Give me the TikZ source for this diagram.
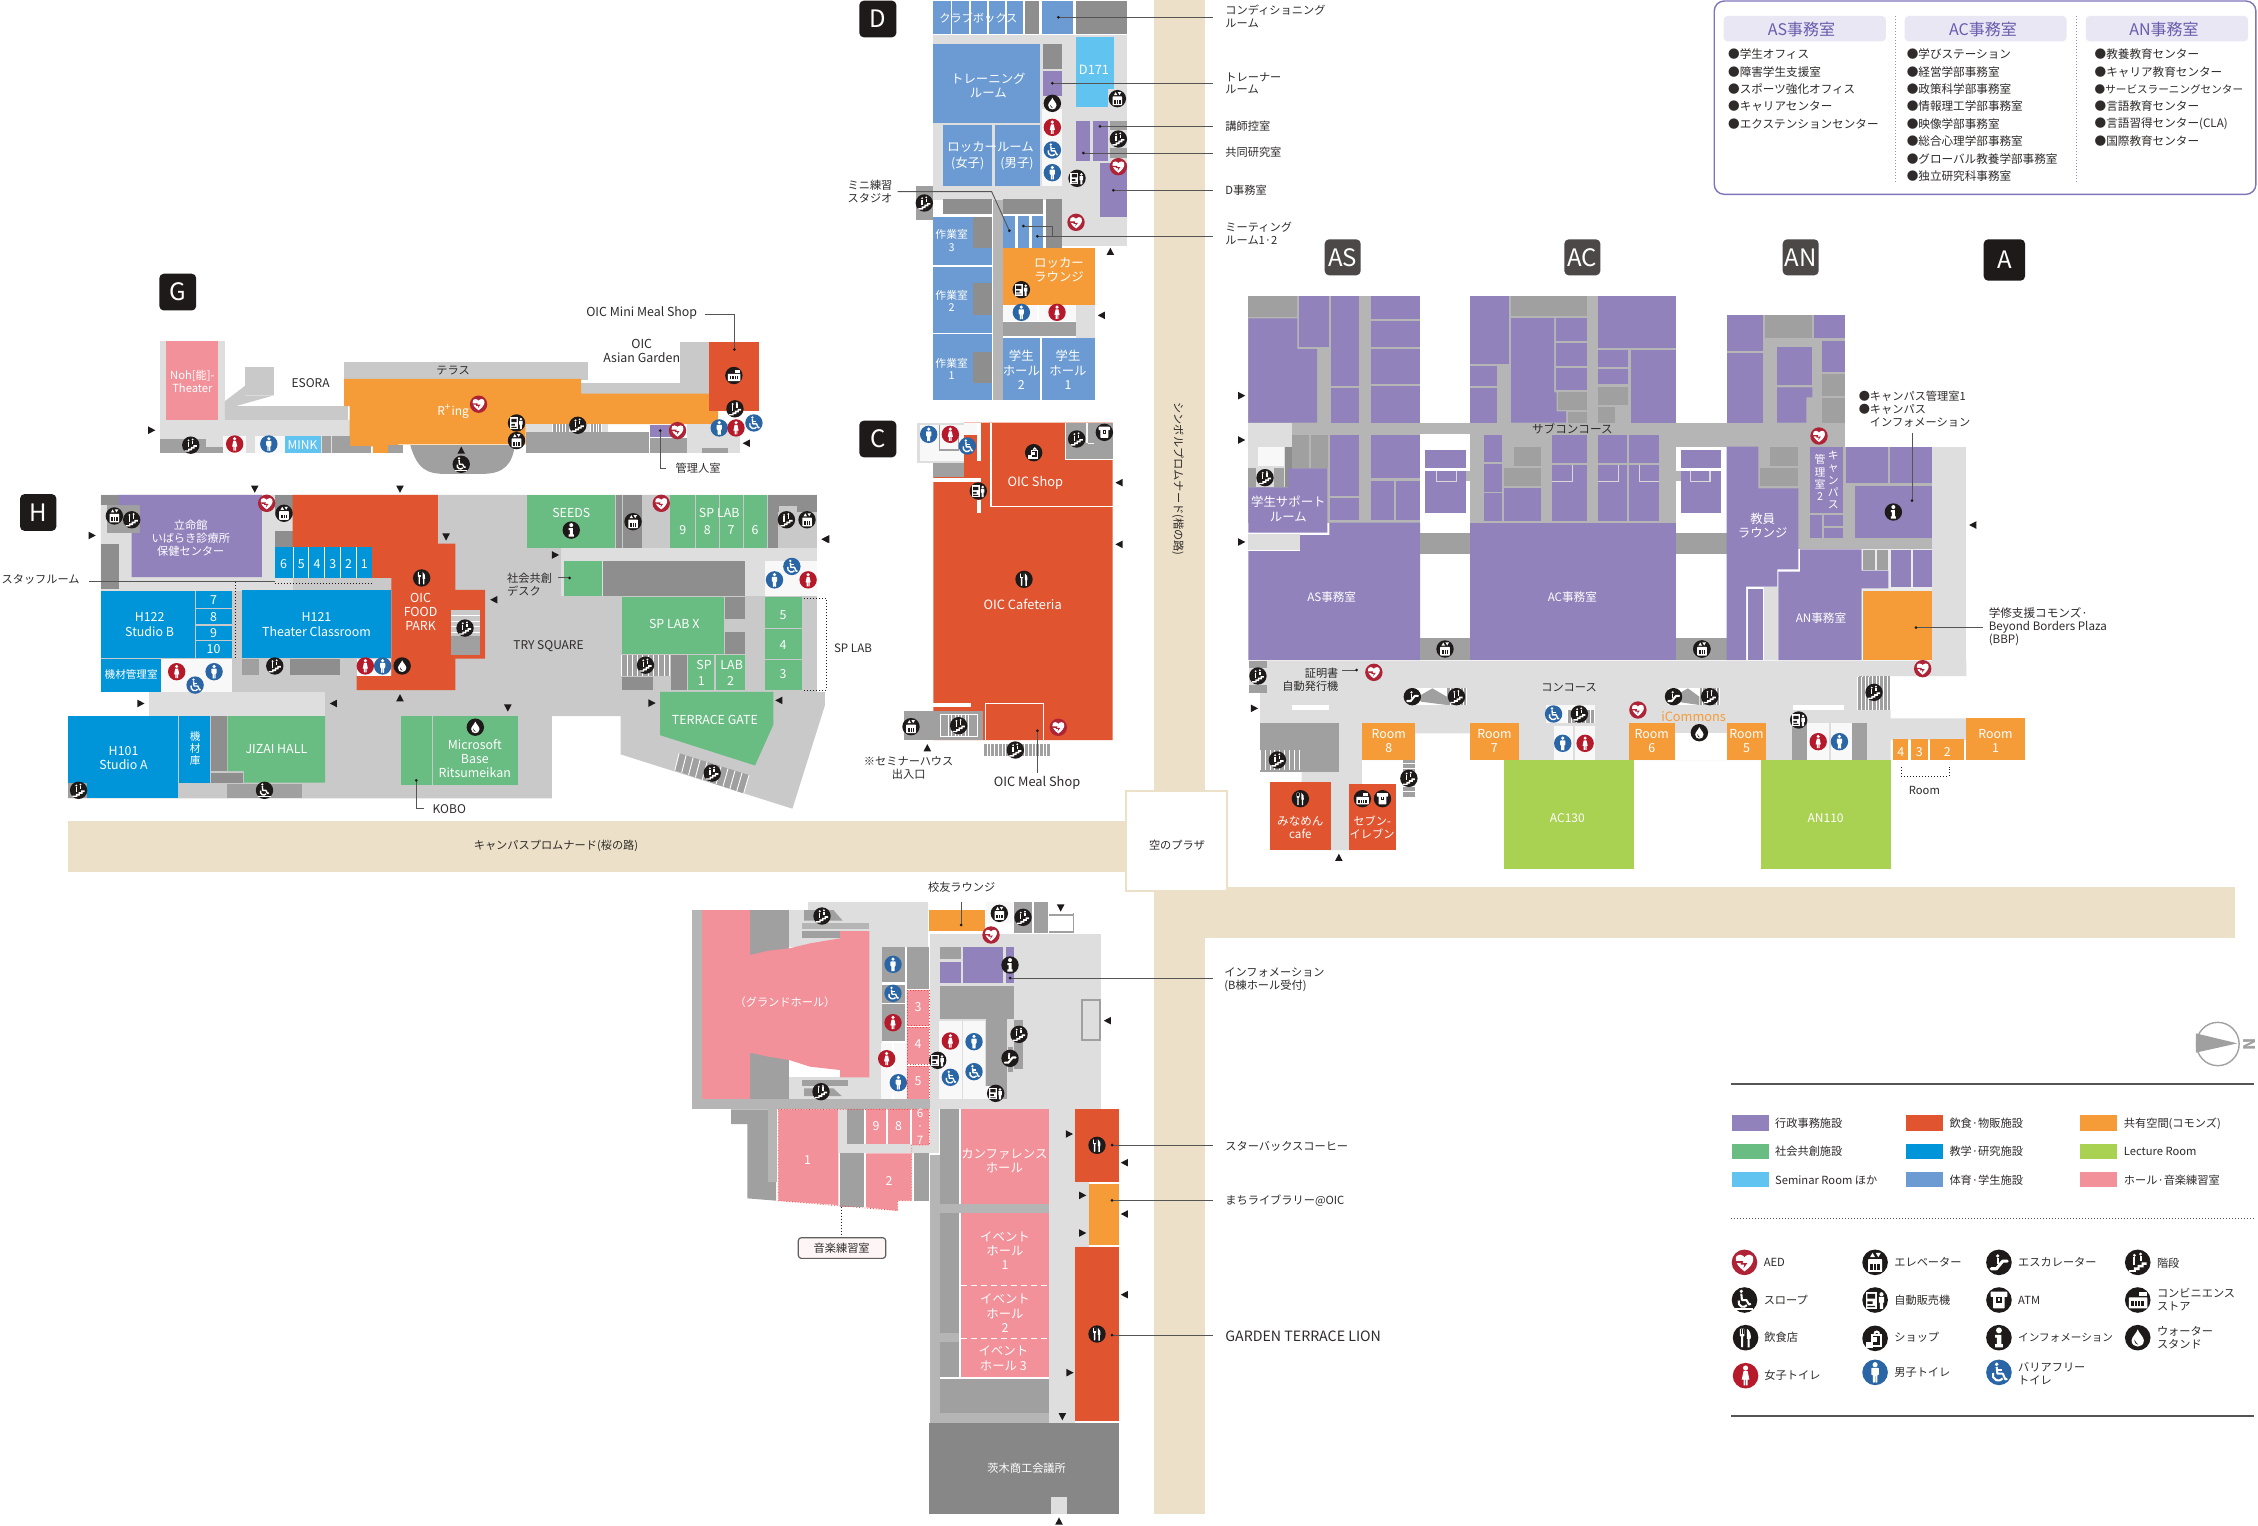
\documentclass[tikz,border=0pt]{standalone}
\usepackage{fontspec}
\setmainfont{Noto Sans CJK JP}
\definecolor{pur}{HTML}{9182BC}
\definecolor{rd}{HTML}{E15430}
\definecolor{org}{HTML}{F59C38}
\definecolor{grn}{HTML}{69BC82}
\definecolor{blu}{HTML}{0095D9}
\definecolor{sky}{HTML}{60C3F0}
\definecolor{stl}{HTML}{6B9BD2}
\definecolor{pnk}{HTML}{F29199}
\definecolor{lim}{HTML}{A9D152}
\definecolor{dkg}{HTML}{A0A0A0}
\definecolor{hdk}{HTML}{8E8E8E}
\definecolor{mdg}{HTML}{B5B5B5}
\definecolor{ltg}{HTML}{DEDEDE}
\definecolor{hgr}{HTML}{C9C9C9}
\definecolor{wht}{HTML}{F8F8F8}
\definecolor{bei}{HTML}{ECE0C8}
\definecolor{txt}{HTML}{2E2B2A}
\definecolor{icb}{HTML}{1E1A19}
\definecolor{icr}{HTML}{B5192A}
\definecolor{ica}{HTML}{AE2336}
\definecolor{icl}{HTML}{2A66A6}
\definecolor{lead}{HTML}{555555}
\definecolor{hdp}{HTML}{E9E7F3}
\definecolor{hdt}{HTML}{6A5BAE}
\newcounter{nn}
\def\icu{0.435}
\tikzset{
 f/.style={font=\fontsize{#1}{\dimexpr#1pt*115/100\relax}\selectfont},
 tx/.style={inner sep=0pt,align=center,text=txt,f=5.6},
 wt/.style={text=white,f=6.2},
 lf/.style={anchor=west,align=left},
 ld/.style={draw=lead,line width=0.45pt},
 zz/.style 2 args={shift={(#1,#2)},x=0.166667pt,y=-0.166667pt},
 icbase/.style={x=\icu pt,y=-\icu pt},
 wl/.style={draw=white,line width=1.6*\icu pt},
 trip/.pic={\begin{scope}[x=.5pt,y=.5pt]\fill[icb] (-3.6,-3.8)--(3.6,0)--(-3.6,3.8)--cycle;\end{scope}},
 icstair/.pic={\begin{scope}[icbase]\fill[icb] (0,0) circle (10);
   \fill[white] (-7,6)--(-3,6)--(-3,4)--(0,4)--(0,2)--(3,2)--(3,0)--(7,0)--(7,2)--(4.5,2)--(4.5,4)--(1.5,4)--(1.5,6)--(-1.5,6)--(-1.5,7.5)--(-7,7.5)--cycle;
   \fill[white] (-2.6,-5.5) circle (1.2) (2.2,-6.5) circle (1.2);
   \draw[wl] (-2.6,-4)--(-2.6,2) (2.2,-5)--(2.2,-1);\end{scope}},
 icesc/.pic={\begin{scope}[icbase]\fill[icb] (0,0) circle (10);
   \draw[white,line width=2.4*\icu pt,line cap=round,line join=round] (-6,5)--(-2,5)--(3,-1)--(6.5,-1);
   \fill[white] (-1,-5) circle (1.4);\draw[wl] (-1,-3.5)--(-1,1);\end{scope}},
 icelev/.pic={\begin{scope}[icbase]\fill[icb] (0,0) circle (10);
   \fill[white,rounded corners=0.3pt] (-5.5,-2.5) rectangle (5.5,7.5);
   \fill[icb] (-3.8,1.5) rectangle (3.8,5.8);
   \draw[white,line width=.8*\icu pt] (-1.3,1.5)--(-1.3,5.8) (1.3,1.5)--(1.3,5.8);
   \fill[white] (-4,-4)--(-2,-7.5)--(0,-4)--cycle (0.5,-7.5)--(4.5,-7.5)--(2.5,-4)--cycle;\end{scope}},
 icvend/.pic={\begin{scope}[icbase]\fill[icb] (0,0) circle (10);
   \fill[white] (-7.5,-6.5) rectangle (1.5,7);
   \fill[icb] (-6,-4.8) rectangle (0,-1) (-6,1) rectangle (-2,3) (-6,4.5) rectangle (0,5.5);
   \fill[white] (5,-4.5) circle (1.6);\fill[white] (3,-2.5) rectangle (7,2) (3.8,2) rectangle (6.2,7);\end{scope}},
 icatm/.pic={\begin{scope}[icbase]\fill[icb] (0,0) circle (10);
   \fill[white,rounded corners=0.3pt] (-6.5,-6.5) rectangle (6.5,-2.5) (-4.5,-2.5) rectangle (4.5,6.5);
   \fill[icb] (-2,-2.5) rectangle (2,2);\fill[white] (-.8,-1.5) rectangle (.8,.8);\end{scope}},
 icconv/.pic={\begin{scope}[icbase]\fill[icb] (0,0) circle (10);
   \fill[white,rounded corners=0.3pt] (-7,-2) rectangle (7.5,6.5);
   \fill[icb] (-5,1) rectangle (5,4.5);\draw[white,line width=.7*\icu pt] (-2.5,1)--(-2.5,4.5) (0,1)--(0,4.5) (2.5,1)--(2.5,4.5);
   \fill[white] (1,-6.5) rectangle (7,-3);\end{scope}},
 icrest/.pic={\begin{scope}[icbase]\fill[icb] (0,0) circle (10);
   \fill[white,rounded corners=0.3pt] (-4.4,-7) rectangle (-1,-1) (-3.5,-1) rectangle (-2,7.5);
   \fill[white] (1,-7) .. controls (3.5,-6) and (4.5,-2) .. (4,1) -- (3.2,1) -- (3.2,7.5) -- (1.6,7.5) -- (1.6,1)--(1,1)--cycle;
   \draw[icb,line width=.5*\icu pt] (-3.3,-7)--(-3.3,-3) (-2.1,-7)--(-2.1,-3);\end{scope}},
 icshop/.pic={\begin{scope}[icbase]\fill[icb] (0,0) circle (10);
   \fill[white] (-3.5,-3.5) rectangle (5.5,7);\fill[icb] (-2,-2) rectangle (4,5.5);
   \draw[wl] (-.5,-3.5) arc[start angle=180,end angle=360,radius=1.8];
   \fill[white] (-7,3) rectangle (-1.5,7.5);\fill[white] (-1.8,-1) rectangle (1.5,3);\end{scope}},
 icinfo/.pic={\begin{scope}[icbase]\fill[icb] (0,0) circle (10);
   \fill[white] (0,-5.7) circle (2.3);
   \fill[white] (-3,-2.2)--(1.8,-2.2)--(1.8,5)--(3,5)--(3,7.5)--(-3,7.5)--(-3,5)--(-1.6,5)--(-1.6,0)--(-3,0)--cycle;\end{scope}},
 icwater/.pic={\begin{scope}[icbase]\fill[icb] (0,0) circle (10);
   \fill[white] (0,-6.5) .. controls (1,-3.5) and (4.8,-.5) .. (4.8,2.2) .. controls (4.8,8.5) and (-4.8,8.5) .. (-4.8,2.2) .. controls (-4.8,-.5) and (-1,-3.5) .. (0,-6.5) -- cycle;
   \fill[icb] (-2.6,1.5) .. controls (-2.6,4) and (-1,5.5) .. (.5,5.5) .. controls (-.8,4.5) and (-1.8,3) .. (-2.6,1.5) -- cycle;\end{scope}},
 icaed/.pic={\begin{scope}[icbase]\fill[ica] (0,0) circle (10);
   \fill[white] (0,7) .. controls (-9,1) and (-8,-6.5) .. (-3.5,-6) .. controls (-1.5,-5.8) and (0,-4.5) .. (0,-3.8) .. controls (0,-4.5) and (1.5,-5.8) .. (3.5,-6) .. controls (8,-6.5) and (9,1) .. (0,7) -- cycle;
   \fill[ica] (-7.5,-1)--(-1,-1)--(-1.5,.6)--(2.2,.6)--(-.8,4.6)--(-.2,1.8)--(-3,1.8)--(-2.7,.6)--(-7,.4)--cycle;\end{scope}},
 icf/.pic={\begin{scope}[icbase]\fill[icr] (0,0) circle (10);
   \fill[white] (0,-6) circle (2);
   \fill[white] (-1.6,-3.5)--(1.6,-3.5)--(3,3)--(1.6,3)--(1.6,7.5)--(.3,7.5)--(.3,3)--(-.3,3)--(-.3,7.5)--(-1.6,7.5)--(-1.6,3)--(-3,3)--cycle;\end{scope}},
 icm/.pic={\begin{scope}[icbase]\fill[icl] (0,0) circle (10);
   \fill[white] (0,-6) circle (2);
   \fill[white,rounded corners=0.3pt] (-3,-3.5)--(3,-3.5)--(3,2)--(1.8,2)--(1.8,8)--(.2,8)--(.2,2.5)--(-.2,2.5)--(-.2,8)--(-1.8,8)--(-1.8,2)--(-3,2)--cycle;\end{scope}},
 icwb/.pic={\begin{scope}[icbase]\fill[icl] (0,0) circle (10);
   \fill[white] (-1.8,-6.3) circle (1.5);
   \draw[wl,line join=round] (-1.8,-4.3)--(-1.2,1)--(3,1)--(5,5.5)--(6.5,5);
   \draw[wl] (-1.5,-2)--(2.5,-2);
   \draw[wl] (-4.6,.5) arc[start angle=200,end angle=40,radius=4.4];\end{scope}},
 icslope/.pic={\begin{scope}[icbase]\fill[icb] (0,0) circle (10);
   \fill[white] (-2.5,-6.8) circle (1.4);
   \draw[wl,line join=round] (-2.5,-5)--(-2,0)--(1.5,0)--(3.5,3.5)--(5,3);
   \draw[wl] (-4.5,.4) arc[start angle=200,end angle=40,radius=3.7];
   \draw[wl] (-7.5,6.8)--(7,6.8);\end{scope}},
}
\newcommand\Rc[3]{\fill[#1] (#2) rectangle (#3);}
\newcommand\Pg[2]{\fill[#1] #2 -- cycle;}
\newcommand\Tx[3][]{\stepcounter{nn}\node[tx,#1] (t\thenn) at (#2) {#3};}
\newcommand\Ic[2]{\pic at (#2) {ic#1};}
\newcommand\Tr[2]{\pic[rotate=#1] at (#2) {trip};}
\newcommand\Dt[1]{\fill[icb] (#1) circle (0.75pt);}
\newcommand\Bx[4]{\stepcounter{nn}\path[fill=#1,rounded corners=2.2pt] (#2) rectangle (#3) node[pos=.5,inner sep=0pt,text=white,f=12] (t\thenn) {#4};}
\newcommand\Stp[5]{\fill[dkg] (#1,#2) rectangle (#3,#4);\foreach \i in {0,...,#5}{\pgfmathsetmacro\xx{#1+(#3-#1)*\i/#5}\draw[white,line width=0.45pt] (\xx,#2)--(\xx,#4);}}
\begin{document}
\begin{tikzpicture}[x=0.5pt,y=-0.5pt]
\useasboundingbox (0,0) rectangle (2258,1525);
\fill[white] (0,0) rectangle (2258,1525);
% roads
\Rc{bei}{1154,0}{1205,790}
\Rc{bei}{68,821}{1125,872}
\Rc{bei}{1154,892}{1205,1514}
\Rc{bei}{1154,887}{2235,938}
\draw[bei,fill=white,line width=1.2pt] (1126,791) rectangle (1227,891);
\Tx[f=5.6]{1177,845}{空のプラザ}
\Tx[rotate=-90]{1178,479}{シンボルプロムナード(楷の路)}
\Tx{556,846}{キャンパスプロムナード(桜の路)}
%
% ---------- G and H
\begin{scope}[shift={(0,250)},x=0.27100pt,y=-0.19133pt]
\Bx{icb}{294,62}{362,158}{G}
\Rc{ltg}{295,238}{415,445}
\Rc{pnk}{307,238}{403,445}
\Rc{hgr}{452,307}{505,380}
\Pg{hgr}{(415,445)--(415,395)--(452,355)--(452,380)--(505,380)--(435,408)--(642,408)--(642,445)}
\Rc{ltg}{295,445}{645,530}
\Rc{hgr}{635,292}{1085,340}
\Rc{hgr}{1072,348}{1310,378}
\Rc{hgr}{1255,240}{1310,378}
\Pg{org}{(635,337)--(1072,337)--(1072,375)--(1325,375)--(1325,455)--(970,455)--(970,508)--(735,508)--(735,530)--(705,530)--(705,530)--(688,530)--(688,513)--(645,513)--(645,408)--(635,408)}
\Rc{rd}{1308,240}{1401,420}
\Rc{dkg}{295,495}{380,530}
\Rc{dkg}{380,515}{412,530}
\Rc{wht}{412,485}{453,530}
\Rc{wht}{470,485}{525,530}
\Rc{sky}{525,485}{592,530}
\Rc{dkg}{595,485}{610,530}
\Rc{dkg}{612,485}{645,530}
\Rc{dkg}{640,513}{685,530}
\Rc{dkg}{715,510}{743,530}
\fill[dkg] (757,510) .. controls (770,575) and (790,585) .. (820,585) -- (890,585) .. controls (930,585) and (945,560) .. (950,510) -- cycle;
\Rc{dkg}{970,475}{1198,530}
\Rc{ltg}{970,455}{1122,475}
\Stp{1020}{455}{1050}{475}{5}
\Stp{1090}{455}{1110}{475}{4}
\Rc{dkg}{1200,490}{1268,530}
\Rc{pur}{1200,457}{1240,488}
\Rc{ltg}{1268,455}{1365,530}
\Rc{dkg}{1295,518}{1343,530}
\draw[ld] (1300,168)--(1355,168)--(1355,260);\Dt{1355,260}
\draw[ld] (1218,472)--(1218,570)--(1228,570);\Dt{1218,472}
\Ic{stair}{352,510}\Ic{f}{433,507}\Ic{m}{496,507}\Ic{aed}{883,403}\Ic{vend}{953,452}\Ic{elev}{953,498}\Ic{stair}{1066,458}\Ic{aed}{1250,472}\Ic{conv}{1354,328}\Ic{stair}{1356,415}\Ic{m}{1327,465}\Ic{f}{1358,465}\Ic{wb}{1391,452}\Ic{slope}{851,560}
\Tr{0}{280,471}\Tr{180}{1377,505}\Tr{90}{851,523}
\Tx[wt,f=5.6]{355,343}{Noh[能]-\\Theater}
\Tx[f=6]{573,348}{ESORA}
\Tx{836,314}{テラス}
\Tx[wt,f=6]{836,421}{R\textsuperscript{+}ing}
\Tx[f=6.2]{1184,263}{OIC\\Asian Garden}
\Tx[f=6.2]{1184,165}{OIC Mini Meal Shop}
\Tx{1288,570}{管理人室}
\Tx[wt,f=6]{558,509}{MINK}
%
% H
\Bx{icb}{37,638}{104,734}{H}
\Pg{hgr}{(186,640)--(1507,640)--(1507,1155)--(1522,1155)--(1522,1190)--(1462,1460)--(1145,1318)--(1145,1218)--(1018,1218)--(1018,1433)--(126,1433)--(126,1218)--(275,1218)--(275,1155)--(186,1155)}
\Rc{ltg}{186,640}{540,890}
\Rc{ltg}{1035,778}{1507,905}
\Rc{ltg}{275,1155}{600,1218}
\Rc{hgr}{810,640}{970,778}
\Rc{hdk}{186,640}{220,667}
\Rc{hdk}{186,767}{220,887}
\Rc{dkg}{197,667}{258,740}
\Rc{hdk}{507,640}{540,695}
\Rc{hdk}{507,735}{540,777}
\Pg{pur}{(220,640)--(483,640)--(483,855)--(243,855)--(243,740)--(258,740)--(258,667)--(220,667)}
\Pg{rd}{(540,640)--(808,640)--(808,767)--(840,767)--(840,888)--(895,888)--(895,1068)--(840,1068)--(840,1150)--(658,1150)--(658,1112)--(722,1112)--(722,857)--(686,857)--(686,777)--(540,777)}
\Rc{blu}{507,777}{686,857}
\foreach \q in {541,570,599,628,657}{\draw[white,line width=.5pt] (\q,777)--(\q,857);}
\Rc{blu}{186,890}{360,1065}
\Rc{blu}{362,890}{428,935}\Rc{blu}{362,939}{428,978}\Rc{blu}{362,982}{428,1018}\Rc{blu}{362,1022}{428,1065}
\Rc{blu}{447,888}{722,1065}
\Rc{blu}{186,1068}{297,1155}
\Rc{wht}{297,1068}{428,1155}
\Rc{dkg}{447,1068}{478,1110}\Rc{hgr}{480,1068}{532,1110}\Rc{hdk}{535,1068}{627,1110}
\Rc{wht}{658,1068}{722,1112}
\Rc{hgr}{833,940}{885,1058}
\Rc{dkg}{833,1010}{885,1058}
\foreach \q in {955,970,985,1000}{\draw[white,line width=.5pt] (833,\q)--(885,\q);}
\Rc{blu}{126,1218}{328,1433}
\Rc{blu}{330,1218}{388,1392}
\Rc{hdk}{390,1218}{418,1362}\Rc{hdk}{390,1366}{448,1392}
\Pg{grn}{(420,1218)--(600,1218)--(600,1392)--(450,1392)--(450,1362)--(420,1362)}
\Rc{dkg}{418,1395}{558,1433}
\Rc{dkg}{126,1392}{160,1433}
\Rc{grn}{740,1218}{797,1398}
\Rc{grn}{799,1218}{955,1398}
\Rc{grn}{972,640}{1135,778}
\Rc{hdk}{1137,640}{1148,778}\Rc{hdk}{1150,640}{1185,778}
\Rc{grn}{1237,640}{1282,778}\Rc{grn}{1285,640}{1326,778}\Rc{grn}{1329,640}{1370,778}\Rc{grn}{1373,640}{1415,778}
\Rc{hdk}{1417,640}{1507,685}\Rc{hdk}{1417,685}{1435,778}
\Rc{hgr}{1437,670}{1470,740}
\Rc{grn}{1040,813}{1110,903}
\Rc{hdk}{1112,813}{1375,903}
\Rc{wht}{1412,812}{1507,905}
\Rc{grn}{1147,907}{1336,1055}
\Rc{hdk}{1338,907}{1375,963}\Rc{hdk}{1338,997}{1375,1055}
\Rc{grn}{1412,907}{1479,987}\Rc{grn}{1412,991}{1479,1068}\Rc{grn}{1412,1072}{1479,1150}
\Rc{grn}{1270,1058}{1318,1150}\Rc{grn}{1321,1058}{1375,1150}
\Rc{hdk}{1238,1058}{1268,1150}
\Stp{1147}{1058}{1235}{1112}{9}
\Rc{hdk}{1147,1116}{1204,1150}
\Pg{grn}{(1218,1155)--(1427,1155)--(1427,1240)--(1393,1347)--(1218,1268)}
\fill[dkg] (1253,1315)--(1382,1372)--(1372,1420)--(1245,1360)--cycle;
\foreach \q in {0,...,10}{\pgfmathsetmacro\ax{1253+12.9*\q}\pgfmathsetmacro\ay{1315+5.7*\q}\pgfmathsetmacro\bx{1245+12.7*\q}\pgfmathsetmacro\by{1360+6*\q}\draw[white,line width=.45pt] (\ax,\ay)--(\bx,\by);}
\draw[icb,densely dotted,line width=.5pt] (1483,912)--(1525,912)--(1525,1150)--(1483,1150);
\draw[icb,densely dotted,line width=.5pt] (507,872)--(686,872);
\draw[icb,densely dotted,line width=.5pt] (435,868)--(435,1068);
\draw[ld] (165,866)--(507,866);
\draw[ld] (1030,857)--(1051,857);\Dt{1051,857}
\draw[ld] (768,1386)--(768,1460)--(783,1460);\Dt{768,1386}
\Ic{aed}{492,662}\Ic{elev}{211,695}\Ic{stair}{243,705}\Ic{elev}{524,688}\Ic{aed}{1220,662}\Ic{elev}{1168,710}\Ic{info}{1054,732}\Ic{stair}{1451,705}\Ic{elev}{1489,705}\Ic{rest}{778,857}\Ic{stair}{858,988}\Ic{f}{326,1102}\Ic{m}{395,1102}\Ic{wb}{360,1137}\Ic{stair}{507,1087}\Ic{f}{674,1087}\Ic{m}{706,1087}\Ic{water}{742,1087}\Ic{wb}{1461,827}\Ic{m}{1429,862}\Ic{f}{1491,862}\Ic{stair}{1191,1085}\Ic{stair}{145,1412}\Ic{slope}{488,1412}\Ic{water}{877,1247}\Ic{stair}{1314,1367}
\Tr{-90}{470,625}\Tr{-90}{738,625}\Tr{-90}{823,750}\Tr{-90}{937,1197}\Tr{0}{170,746}\Tr{0}{1025,797}\Tr{0}{260,1185}\Tr{0}{1203,1184}\Tr{180}{1522,756}\Tr{180}{911,914}\Tr{180}{615,1185}\Tr{180}{1437,1177}\Tr{90}{738,1170}
\Tx[wt,f=5.6]{352,753}{立命館\\いばらき診療所\\保健センター}
\foreach \q/\w in {523/6,556/5,585/4,614/3,643/2,672/1}{\node[tx,wt] (n6\w) at (\q,820) {\w};}
\foreach \q/\w in {915/7,958/8,1000/9,1044/10}{\node[tx,wt] (n7\w) at (394,\q) {\w};}
\Tx[wt]{276,979}{H122\\Studio B}
\Tx[wt]{584,979}{H121\\Theater Classroom}
\Tx[wt,f=5.3]{242,1110}{機材管理室}
\Tx[wt]{228,1328}{H101\\Studio A}
\Tx[wt,f=5.3]{360,1303}{機\\材\\庫}
\Tx[wt]{510,1303}{JIZAI HALL}
\Tx[wt]{876,1329}{Microsoft\\Base\\Ritsumeikan}
\Tx[f=6]{829,1460}{KOBO}
\Tx[wt]{776,946}{OIC\\FOOD\\PARK}
\Tx[f=6]{1012,1036}{TRY SQUARE}
\Tx[wt]{1054,688}{SEEDS}
\Tx[wt]{1327,686}{SP LAB}
\foreach \q/\w in {1260/9,1305/8,1349/7,1393/6}{\node[tx,wt] (n8\w) at (\q,733) {\w};}
\Tx[wt]{1244,977}{SP LAB X}
\Tx[wt]{1299,1085}{SP}\Tx[wt]{1350,1085}{LAB}\Tx[wt]{1294,1127}{1}\Tx[wt]{1348,1127}{2}
\Tx[wt]{1445,953}{5}\Tx[wt]{1445,1033}{4}\Tx[wt]{1445,1108}{3}
\Tx[wt]{1319,1229}{TERRACE GATE}
\Tx[lf]{935,875}{社会共創\\デスク}
\Tx{75,862}{スタッフルーム}
\end{scope}
\Tx[f=5.8]{853,648}{SP LAB}
%
% ---------- D
\begin{scope}[zz={820}{0}]
\Bx{icb}{118,2}{229,112}{D}
\Rc{ltg}{340,105}{920,600}
\Rc{ltg}{727,600}{920,737}
\Rc{ltg}{340,368}{368,600}
\Rc{ltg}{767,915}{825,1015}
\foreach \q/\w in {340/392,397/447,452/502,506/556,560/610}{\Rc{stl}{\q,2}{\w,103}}
\Rc{hdk}{615,2}{658,103}\Rc{stl}{665,2}{760,103}\Rc{hdk}{767,2}{920,103}
\Rc{stl}{340,133}{660,368}
\Rc{hdk}{668,133}{727,207}\Rc{pur}{668,213}{727,287}
\Rc{sky}{767,110}{882,320}
\Rc{ltg}{863,268}{920,320}
\Rc{stl}{370,375}{517,558}\Rc{stl}{524,375}{660,558}
\Rc{wht}{665,328}{727,558}
\Rc{pur}{767,362}{811,483}\Rc{pur}{818,362}{863,483}
\Rc{dkg}{870,362}{920,390}\Rc{dkg}{870,445}{920,475}
\Rc{pur}{840,490}{920,650}
\Rc{dkg}{288,558}{340,660}
\Rc{hdk}{370,598}{517,642}\Rc{hdk}{550,598}{668,642}\Rc{hdk}{677,598}{727,745}
\Rc{mdg}{518,600}{550,1200}
\foreach \a/\b in {650/795,800/998,1003/1200}{\Rc{stl}{340,\a}{517,\b}}
\Rc{hdk}{458,650}{517,745}\Rc{hdk}{458,850}{517,945}\Rc{hdk}{458,1055}{517,1150}
\foreach \a/\b in {550/585,593/628,635/670}{\Rc{stl}{\a,648}{\b,743}}
\Rc{org}{550,743}{825,915}
\Rc{wht}{550,915}{652,962}\Rc{wht}{658,915}{767,962}
\Rc{dkg}{550,965}{767,1008}
\Rc{stl}{550,1015}{660,1200}\Rc{stl}{667,1015}{825,1200}
\draw[ld] (715,52)--(1180,52);\Dt{715,52}
\draw[ld] (697,250)--(1180,250);\Dt{697,250}
\draw[ld] (840,379)--(1180,379);\Dt{840,379}
\draw[ld] (790,459)--(1180,459);\Dt{790,459}
\draw[ld] (880,571)--(1180,571);\Dt{880,571}
\draw[ld] (652,709)--(1180,709);\Dt{652,709}
\draw[ld] (610,678)--(697,678)--(697,709);\Dt{610,678}
\draw[ld] (233,575)--(515,575)--(568,692);\Dt{568,692}
\Ic{water}{697,310}\Ic{f}{697,382}\Ic{wb}{697,450}\Ic{m}{697,518}\Ic{elev}{892,296}\Ic{stair}{895,417}\Ic{aed}{895,500}\Ic{vend}{771,535}\Ic{aed}{768,667}\Ic{stair}{313,609}\Ic{vend}{604,869}\Ic{m}{604,937}\Ic{f}{711,937}
\Tr{90}{871,754}\Tr{180}{844,946}
\Tx[wt,f=5.6]{475,55}{クラブボックス}
\Tx[lf]{1215,50}{コンディショニング\\ルーム}
\Tx[wt]{505,257}{トレーニング\\ルーム}
\Tx[wt,f=6.4]{822,210}{D171}
\Tx[lf]{1215,250}{トレーナー\\ルーム}
\Tx[lf]{1215,380}{講師控室}
\Tx[lf]{1215,458}{共同研究室}
\Tx[lf]{1215,572}{D事務室}
\Tx[lf]{1215,701}{ミーティング\\ルーム1·2}
\Tx{150,575}{ミニ練習\\スタジオ}
\Tx[wt]{512,441}{ロッカールーム}
\Tx[wt]{443,492}{(女子)}\Tx[wt]{591,492}{(男子)}
\Tx[wt]{717,810}{ロッカー\\ラウンジ}
\Tx[wt,f=5.4]{395,722}{作業室\\3}\Tx[wt,f=5.4]{395,903}{作業室\\2}\Tx[wt,f=5.4]{395,1106}{作業室\\1}
\Tx[wt]{604,1110}{学生\\ホール\\2}\Tx[wt]{744,1110}{学生\\ホール\\1}
\end{scope}
%
% ---------- C
\begin{scope}[zz={820}{400}]
\Bx{icb}{118,62}{229,172}{C}
\Pg{rd}{(340,178)--(432,178)--(432,68)--(878,68)--(878,1020)--(340,1020)}
\Rc{ltg}{292,68}{432,190}
\Rc{wht}{300,75}{432,182}
\Rc{wht}{432,68}{470,105}
\draw[dkg,line width=.8pt] (358,75)--(358,150)--(415,150)--(415,105);
\Rc{dkg}{340,190}{432,232}
\Rc{white}{470,68}{483,182}\Rc{white}{470,300}{483,340}\Rc{white}{340,233}{483,245}\Rc{white}{340,910}{452,922}
\draw[white,line width=.8pt] (513,68)--(513,320)--(878,320);
\Rc{dkg}{737,68}{878,178}
\Rc{wht}{797,68}{803,130}\Rc{wht}{803,128}{822,130}
\draw[white,line width=.8pt] (737,68)--(737,178)--(878,178);
\draw[white,line width=.8pt] (496,1020)--(496,910)--(670,910)--(670,1020);
\Rc{dkg}{252,933}{490,1020}
\draw[white,line width=.8pt] (362,943) rectangle (473,1010);
\foreach \q in {385,395,405,415,425,435,445}{\draw[white,line width=.5pt] (\q,943)--(\q,1010);}
\Stp{490}{1032}{692}{1068}{18}
\draw[ld] (652,992)--(652,1118);\Dt{652,992}
\Ic{m}{326,103}\Ic{f}{391,103}\Ic{wb}{442,138}\Ic{stair}{770,117}\Ic{atm}{853,97}\Ic{shop}{641,158}\Ic{vend}{475,273}\Ic{rest}{612,538}\Ic{elev}{273,980}\Ic{stair}{416,977}\Ic{aed}{715,982}\Ic{stair}{586,1050}
\Tr{180}{897,248}\Tr{180}{897,433}\Tr{180}{17,417}\Tr{90}{322,1043}
\Tx[wt,f=6.4]{646,250}{OIC Shop}
\Tx[wt,f=6.4]{608,613}{OIC Cafeteria}
\Tx{266,1105}{※セミナーハウス\\出入口}
\Tx[f=6.4]{651,1150}{OIC Meal Shop}
\end{scope}
%
% ---------- AS AC
\begin{scope}[zz={1220}{230}]
\Bx{icb!80!white}{314,28}{422,136}{AS}
\Bx{icb!80!white}{1033,28}{1141,136}{AC}
\Rc{mdg}{85,198}{600,880}
\Rc{mdg}{750,198}{1368,880}
\Rc{mdg}{600,578}{1560,613}
\Rc{mdg}{1368,613}{1520,650}
\Rc{dkg}{85,198}{232,260}
\Pg{pur}{(85,265)--(232,265)--(232,357)--(291,357)--(291,578)--(85,578)}
\Rc{pur}{238,198}{327,350}
\Rc{pur}{333,198}{416,468}\Rc{pur}{333,475}{416,578}
\Rc{pur}{452,198}{600,268}\Rc{pur}{452,274}{600,352}\Rc{pur}{452,358}{600,462}\Rc{pur}{452,468}{600,578}
\Rc{ltg}{85,578}{216,650}
\Rc{ltg}{85,650}{195,772}
\Rc{wht}{113,650}{193,708}
\Rc{dkg}{85,715}{193,770}
\Rc{ltg}{108,715}{163,770}
\Rc{hdk}{195,650}{216,772}
\Rc{dkg}{216,614}{267,715}\Rc{dkg}{273,614}{323,715}
\Pg{pur}{(85,772)--(205,772)--(205,715)--(322,715)--(322,908)--(85,908)}
\Rc{pur}{330,614}{416,798}\Rc{pur}{330,805}{416,870}
\Rc{pur}{452,614}{600,745}\Rc{pur}{452,752}{522,870}\Rc{pur}{528,752}{600,870}
\Rc{white}{85,908}{328,915}
\Pg{pur}{(85,963)--(240,963)--(240,915)--(328,915)--(328,878)--(600,878)--(600,1290)--(85,1290)}
\Rc{ltg}{85,912}{240,960}
\Rc{dkg}{600,908}{750,973}\Rc{dkg}{600,1225}{750,1290}
\Rc{pur}{615,660}{737,715}\Rc{pur}{615,722}{737,850}
\Rc{mdg}{737,722}{750,752}
\draw[white!70!gray,line width=.6pt] (650,722)--(650,755)--(710,755)--(710,722);
\Rc{pur}{750,198}{867,402}\Rc{pur}{750,409}{830,468}\Rc{pur}{750,475}{830,578}
\Rc{dkg}{873,198}{1100,258}
\Pg{pur}{(873,264)--(1002,264)--(1002,487)--(1010,487)--(1010,544)--(1038,544)--(1038,578)--(873,578)}
\Rc{pur}{1008,264}{1100,333}\Rc{pur}{1008,339}{1100,408}\Rc{pur}{1008,414}{1100,481}
\Rc{dkg}{1015,487}{1100,540}\Rc{dkg}{1044,545}{1100,578}
\Rc{pur}{1135,198}{1368,355}\Rc{pur}{1135,361}{1225,411}\Rc{pur}{1135,417}{1225,463}
\Rc{dkg}{1135,470}{1225,525}\Rc{dkg}{1135,532}{1185,578}
\Rc{pur}{1232,361}{1368,578}
\Rc{pur}{791,614}{847,696}\Rc{pur}{791,703}{847,785}\Rc{pur}{791,790}{847,873}
\Rc{dkg}{882,650}{962,708}\Rc{dkg}{853,714}{962,768}
\Rc{pur}{853,773}{962,873}
\Rc{pur}{997,614}{1100,700}\Rc{pur}{997,706}{1100,873}
\draw[white!70!gray,line width=.6pt] (1058,706)--(1058,755)--(997,755);
\Rc{pur}{1135,614}{1222,700}\Rc{pur}{1135,706}{1222,873}
\draw[white!70!gray,line width=.6pt] (1195,706)--(1195,755)--(1135,755);
\Rc{pur}{1228,614}{1318,700}\Rc{pur}{1228,706}{1318,873}
\draw[white!70!gray,line width=.6pt] (1258,706)--(1258,755)--(1318,755);
\Rc{pur}{750,880}{1368,1290}
\Rc{dkg}{1368,908}{1520,973}\Rc{dkg}{1368,1225}{1520,1290}
\Rc{pur}{1382,660}{1503,715}\Rc{pur}{1382,722}{1503,850}
\Rc{mdg}{1368,722}{1382,752}
\draw[white!70!gray,line width=.6pt] (1411,722)--(1411,755)--(1470,755)--(1470,722);
\Ic{stair}{135,743}\Ic{elev}{675,1257}\Ic{elev}{1445,1257}
\Tr{0}{65,497}\Tr{0}{65,630}\Tr{0}{65,936}
\Tx[f=5.8]{1057,597}{サブコンコース}
\Tx[wt,f=5.8]{335,1102}{AS事務室}
\Tx[wt,f=5.8]{1057,1102}{AC事務室}
\Tx[wt]{205,837}{学生サポート\\ルーム}
\end{scope}
%
% ---------- AN
\begin{scope}[zz={1680}{230}]
\Bx{icb!80!white}{308,28}{416,136}{AN}
\Bx{icb}{911,28}{1035,152}{A}
\Rc{ltg}{757,650}{858,1337}
\Rc{mdg}{140,256}{496,650}
\Rc{mdg}{140,650}{757,958}
\Rc{mdg}{0,578}{140,650}
\Rc{pur}{140,256}{248,362}\Rc{pur}{140,368}{248,578}
\Rc{dkg}{254,256}{397,325}
\Rc{pur}{403,256}{496,325}\Rc{pur}{426,332}{496,425}
\Rc{dkg}{426,432}{496,497}\Rc{dkg}{426,505}{496,578}
\Rc{pur}{291,351}{397,465}
\Pg{pur}{(291,472)--(397,472)--(397,502)--(379,502)--(379,578)--(291,578)}
\Rc{ltg}{252,1070}{295,1290}
\Pg{pur}{(140,650)--(235,650)--(235,775)--(355,775)--(355,1018)--(292,1018)--(292,1070)--(198,1070)--(198,1290)--(140,1290)}
\Rc{dkg}{270,650}{355,708}\Rc{dkg}{241,715}{355,768}
\Rc{pur}{390,650}{490,850}
\Rc{pur}{390,856}{426,925}\Rc{pur}{432,856}{490,887}\Rc{pur}{432,893}{490,925}
\Rc{pur}{497,650}{624,760}\Rc{pur}{630,650}{757,760}\Rc{pur}{524,767}{757,925}
\Rc{ltg!60!white}{545,958}{757,1083}
\Pg{pur}{(360,958)--(545,958)--(545,1022)--(625,1022)--(625,1075)--(545,1075)--(545,1290)--(295,1290)--(295,1025)--(360,1025)}
\Rc{dkg}{550,960}{585,1020}\Rc{dkg}{592,960}{625,1020}
\Rc{pur}{632,960}{692,1070}\Rc{pur}{698,960}{757,1070}
\Rc{org}{550,1083}{757,1290}
\Rc{pur}{204,1078}{250,1290}
\end{scope}
%
% ---------- concourse
\begin{scope}[shift={(1220,640)},x=0.28703pt,y=-0.166667pt]
\Pg{ltg}{(70,62)--(1300,62)--(1300,108)--(1168,108)--(1168,235)--(1300,235)--(1300,300)--(1168,300)--(1168,360)--(520,360)--(520,280)--(340,280)--(340,360)--(247,360)--(247,630)--(142,630)--(142,395)--(70,395)}
\Rc{dkg}{50,62}{82,160}
\Rc{ltg}{50,85}{82,135}
\Rc{white}{125,195}{190,210}\Rc{white}{998,195}{1087,210}
\Rc{white}{793,280}{883,360}
\Rc{dkg}{70,250}{207,395}
\Stp{70}{330}{138}{390}{8}
\Rc{org}{247,250}{340,360}\Rc{org}{436,250}{520,360}\Rc{org}{712,250}{793,360}\Rc{org}{883,250}{951,360}
\Rc{org}{1300,235}{1402,360}\Rc{org}{1173,297}{1199,360}\Rc{org}{1204,297}{1233,360}\Rc{org}{1237,297}{1296,360}
\Rc{lim}{495,360}{721,687}\Rc{lim}{943,360}{1168,687}
\Rc{rd}{87,425}{194,630}\Rc{rd}{224,432}{307,630}
\Stp{317}{360}{340}{472}{1}
\foreach \q in {370,385,400,440,455}{\draw[white,line width=.6pt] (317,\q)--(340,\q);}
\Rc{wht}{581,258}{615,360}\Rc{wht}{619,258}{653,360}
\Rc{wht}{568,195}{653,250}
\Stp{605}{210}{653}{250}{6}
\Rc{wht}{1022,250}{1060,360}\Rc{wht}{1064,250}{1100,360}
\Rc{dkg}{996,240}{1022,360}\Rc{dkg}{1100,250}{1127,360}
\Rc{white}{335,145}{430,195}
\Stp{395}{145}{430}{195}{6}
\Pg{dkg}{(345,170)--(370,145)--(395,170)--(395,195)--(350,185)}
\Rc{white}{780,145}{870,195}
\Stp{835}{145}{870}{195}{6}
\Pg{dkg}{(790,170)--(815,145)--(835,170)--(835,195)--(795,185)}
\Stp{1112}{108}{1168}{208}{9}
\draw[icb,densely dotted,line width=.5pt] (1187,380)--(1187,408)--(1270,408)--(1270,380);
\draw[ld] (213,90)--(238,90);\Dt{238,90}
\Ic{stair}{66,108}\Ic{aed}{268,97}\Ic{esc}{335,170}\Ic{stair}{412,170}\Ic{wb}{581,222}\Ic{stair}{626,222}\Ic{m}{597,310}\Ic{f}{636,310}\Ic{aed}{728,210}\Ic{esc}{790,170}\Ic{stair}{853,170}\Ic{water}{835,278}\Ic{vend}{1008,240}\Ic{f}{1042,305}\Ic{m}{1079,305}\Ic{stair}{1139,158}\Ic{stair}{100,360}\Ic{stair}{329,415}\Ic{rest}{140,476}\Ic{conv}{248,476}\Ic{atm}{283,476}
\Tr{0}{60,205}\Tr{90}{207,652}
\Tx[anchor=east,align=right]{207,118}{証明書\\自動発行機}
\Tx{608,143}{コンコース}
\Tx[text=org,f=6.4]{825,230}{iCommons}
\Tx[wt]{294,303}{Room\\8}\Tx[wt]{478,303}{Room\\7}\Tx[wt]{752,303}{Room\\6}\Tx[wt]{917,303}{Room\\5}\Tx[wt]{1351,303}{Room\\1}
\Tx[wt]{1186,335}{4}\Tx[wt]{1218,335}{3}\Tx[wt]{1267,335}{2}
\Tx[f=5.6]{1227,452}{Room}
\Tx[wt,f=6]{605,533}{AC130}\Tx[wt,f=6]{1055,533}{AN110}
\Tx[wt,f=5.8]{140,563}{みなめん\\cafe}
\Tx[wt,f=5.6]{265,563}{セブン-\\イレブン}
\end{scope}
%
\begin{scope}[zz={1680}{230}]
\Stp{533}{1340}{632}{1440}{9}
\draw[ld] (696,608)--(696,812);\Dt{696,812}
\draw[ld] (708,1193)--(910,1193);\Dt{708,1193}
\Ic{aed}{417,618}\Ic{info}{640,846}\Ic{aed}{728,1316}\Ic{elev}{66,1257}\Ic{stair}{582,1387}
\Tr{180}{878,885}
\Tx[wt]{248,887}{教員\\ラウンジ}
\Tx[wt,f=5.4]{460,750}{キ\\ャ\\ン\\パ\\ス}
\Tx[wt,f=5.4]{420,743}{管\\理\\室\\2}
\Tx[wt,f=5.8]{423,1165}{AN事務室}
\Tx[lf]{535,537}{●キャンパス管理室1\\●キャンパス\\　インフォメーション}
\Tx[lf,f=5.8]{925,1190}{学修支援コモンズ·\\Beyond Borders Plaza\\(BBP)}
\end{scope}
%
% ---------- B
\begin{scope}[zz={660}{860}]
\Rc{mdg}{95,150}{125,748}
\Rc{ltg}{388,150}{665,260}
\Rc{ltg}{445,127}{805,260}
\Rc{ltg}{628,213}{665,717}
\Rc{ltg}{372,652}{665,717}
\Rc{dkg}{270,150}{387,285}
\Rc{dkg}{270,578}{387,717}
\Rc{pnk}{125,150}{270,717}
\Pg{pnk}{(270,285)--(325,272)--(388,265)--(450,250)--(540,235)--(540,213)--(628,213)--(628,652)--(540,652)--(540,630)--(450,620)--(388,600)--(325,590)--(270,578)}
\Rc{dkg}{427,213}{540,235}
\Pg{dkg}{(432,150)--(520,150)--(548,182)--(432,182)}
\Rc{mdg}{427,188}{628,208}
\Rc{dkg}{427,660}{563,678}
\Pg{dkg}{(432,685)--(520,685)--(545,708)--(432,708)}
\Rc{dkg}{665,260}{735,367}\Rc{dkg}{665,375}{735,428}\Rc{dkg}{665,433}{735,543}
\Rc{wht}{663,550}{697,717}\Rc{wht}{701,550}{740,717}
\Rc{dkg}{742,260}{808,388}
\Rc{ltg}{810,222}{1323,748}
\foreach \a/\b in {390/497,502/612,618/717}{\Rc{pnk}{742,\a}{808,\b}\draw[red!75,densely dotted,line width=.4pt] (742,\a) rectangle (808,\b);}
\Rc{org}{808,150}{975,213}
\Rc{wht}{977,127}{1058,190}
\Rc{dkg}{1063,127}{1115,220}\Rc{dkg}{1121,127}{1165,220}
\draw[dkg,line width=.7pt] (1168,165)--(1240,165) (1168,216)--(1240,216) (1240,160)--(1240,220);
\Rc{dkg}{840,260}{903,297}
\Rc{pur}{840,305}{903,370}\Rc{pur}{910,260}{1030,370}\Rc{pur}{1037,260}{1063,370}
\Rc{dkg}{840,378}{1063,478}
\Rc{wht}{838,482}{906,717}\Rc{wht}{910,482}{975,717}
\Rc{dkg}{977,478}{1040,717}
\Rc{wht}{937,677}{1000,717}
\Rc{dkg}{1063,480}{1090,570}\Rc{dkg}{1043,560}{1060,637}\Rc{dkg}{1063,560}{1090,628}
\draw[dkg,line width=.7pt] (1263,420)--(1323,420) (1263,540)--(1323,540) (1266,420)--(1266,540) (1320,420)--(1320,540);
\Rc{mdg}{95,717}{810,748}
\Pg{dkg}{(213,748)--(325,748)--(325,965)--(348,965)--(348,1022)--(262,1015)--(262,792)--(213,792)}
\Rc{mdg}{325,748}{352,965}
\Pg{pnk}{(355,748)--(535,748)--(535,1035)--(355,1022)}
\Rc{ltg}{535,748}{562,880}\Rc{ltg}{535,853}{838,880}
\Rc{dkg}{562,748}{612,852}
\Rc{pnk}{618,748}{678,852}\Rc{pnk}{683,748}{750,852}\Rc{pnk}{757,748}{808,855}
\Rc{dkg}{540,880}{612,1042}
\Pg{pnk}{(618,880)--(755,880)--(755,1022)--(713,1022)--(713,1052)--(618,1042)}
\Rc{dkg}{762,880}{808,1022}
\Rc{ltg}{810,748}{838,855}
\draw[red!75,densely dotted,line width=.4pt] (355,748)--(808,748)--(808,855)--(755,855)--(755,1022)--(713,1022)--(713,1052)--(355,1022)--cycle;
\draw[icb,densely dotted,line width=.5pt] (545,1040)--(545,1130);
\draw[ld] (903,125)--(903,195);\Dt{903,195}
\draw[ld] (1050,354)--(1660,354);\Dt{1050,354}
\path[draw=icb!70!white,fill=hdp!30!pnk!12!white,rounded corners=1.5pt,line width=.6pt] (415,1133) rectangle (677,1195);
\Ic{stair}{486,168}\Ic{elev}{1018,160}\Ic{stair}{1089,172}\Ic{aed}{993,225}\Ic{info}{1050,315}\Ic{m}{699,313}\Ic{wb}{699,400}\Ic{f}{699,488}\Ic{f}{680,596}\Ic{m}{715,668}\Ic{vend}{833,601}\Ic{f}{871,543}\Ic{m}{942,545}\Ic{wb}{871,652}\Ic{wb}{942,635}\Ic{stair}{1077,523}\Ic{esc}{1050,595}\Ic{vend}{1007,700}\Ic{stair}{483,695}
\Tr{-90}{1202,144}\Tr{180}{1342,482}
\Tx{905,82}{校友ラウンジ}
\Tx[wt,f=5.6]{375,428}{（グランドホール）}
\Tx[wt]{774,440}{3}\Tx[wt]{774,553}{4}\Tx[wt]{774,664}{5}\Tx[wt]{648,797}{9}\Tx[wt]{716,797}{8}\Tx[wt,f=5.8]{780,800}{6\\·\\7}\Tx[wt]{443,900}{1}\Tx[wt]{687,963}{2}
\Tx[f=5.6]{545,1165}{音楽練習室}
\end{scope}
\begin{scope}[zz={900}{1100}]
\Rc{mdg}{90,165}{120,968}
\Rc{ltg}{447,0}{525,968}
\Rc{ltg}{525,245}{566,441}
\Rc{dkg}{120,28}{178,312}
\Rc{pnk}{184,28}{447,312}
\Rc{mdg}{120,312}{447,340}
\Rc{dkg}{120,340}{178,700}
\Rc{mdg}{120,700}{178,725}
\Rc{dkg}{120,725}{178,830}
\Rc{pnk}{184,340}{447,830}
\draw[white,densely dashed,line width=.35pt] (184,555)--(447,555) (184,716)--(447,716);
\Rc{dkg}{120,836}{447,940}
\Rc{mdg}{90,940}{447,968}
\Rc{rd}{526,28}{657,245}
\Rc{org}{566,251}{657,435}
\Rc{rd}{526,441}{657,962}
\Rc{hdk!95!black}{88,968}{657,1242}
\Rc{ltg}{454,1192}{502,1242}
\draw[ld] (636,135)--(938,135);\Dt{636,135}
\draw[ld] (636,301)--(938,301);\Dt{636,301}
\draw[ld] (636,705)--(938,705);\Dt{636,705}
\Ic{rest}{591,136}\Ic{rest}{591,702}
\Tr{0}{508,102}\Tr{180}{673,188}\Tr{0}{548,286}\Tr{180}{673,342}\Tr{0}{548,399}\Tr{180}{673,584}\Tr{0}{510,818}\Tr{-90}{487,950}\Tr{90}{477,1263}
\Tx[wt]{313,182}{カンファレンス\\ホール}
\Tx[wt]{315,452}{イベント\\ホール\\1}
\Tx[wt]{315,640}{イベント\\ホール\\2}
\Tx[wt]{310,775}{イベント\\ホール 3}
\Tx[wt,f=5.6]{380,1105}{茨木商工会議所}
\Tx[lf]{975,138}{スターバックスコーヒー}
\Tx[lf]{975,303}{まちライブラリー@OIC}
\Tx[lf,f=7.1]{975,708}{GARDEN TERRACE LION}
\end{scope}
\Tx[lf]{1224,980}{インフォメーション\\(B棟ホール受付)}
%
% ---------- legend
\begin{scope}[shift={(1700,1000)},x=0.17794pt,y=-0.166667pt]
\draw[hgr!80!black,line width=.7pt,fill=white] (1455,132) ellipse (60 and 65);
\fill[dkg] (1393,100)--(1510,130)--(1393,158)--cycle;
\node[tx,rotate=90,text=dkg,font=\bfseries\fontsize{8}{9}\selectfont] (north) at (1545,132) {N};
\draw[lead,line width=.8pt] (88,252)--(1558,252);
\draw[lead,line width=.8pt] (88,1248)--(1558,1248);
\draw[lead,densely dotted,line width=.5pt] (88,655)--(1558,655);
\Rc{pur}{90,346}{193,392}\Rc{grn}{90,431}{193,477}\Rc{sky}{90,516}{193,562}
\Rc{rd}{580,346}{683,392}\Rc{blu}{580,431}{683,477}\Rc{stl}{580,516}{683,562}
\Rc{org}{1069,346}{1172,392}\Rc{lim}{1069,431}{1172,477}\Rc{pnk}{1069,516}{1172,562}
\Tx[lf]{210,370}{行政事務施設}\Tx[lf]{210,455}{社会共創施設}\Tx[lf]{210,540}{Seminar Room ほか}
\Tx[lf]{700,370}{飲食·物販施設}\Tx[lf]{700,455}{教学·研究施設}\Tx[lf]{700,540}{体育·学生施設}
\Tx[lf]{1190,370}{共有空間(コモンズ)}\Tx[lf]{1190,455}{Lecture Room}\Tx[lf]{1190,540}{ホール·音楽練習室}
\def\icu{0.64}
\Ic{aed}{125,787}\Ic{slope}{125,900}\Ic{rest}{128,1013}\Ic{f}{128,1127}
\Ic{elev}{492,787}\Ic{vend}{492,900}\Ic{shop}{492,1015}\Ic{m}{492,1117}
\Ic{esc}{840,787}\Ic{atm}{840,900}\Ic{info}{840,1013}\Ic{wb}{840,1117}
\Ic{stair}{1230,787}\Ic{conv}{1230,900}\Ic{water}{1230,1013}
\Tx[lf]{178,787}{AED}\Tx[lf]{178,900}{スロープ}\Tx[lf]{180,1013}{飲食店}\Tx[lf]{180,1127}{女子トイレ}
\Tx[lf]{545,787}{エレベーター}\Tx[lf]{545,900}{自動販売機}\Tx[lf]{545,1013}{ショップ}\Tx[lf]{545,1117}{男子トイレ}
\Tx[lf]{893,787}{エスカレーター}\Tx[lf]{893,902}{ATM}\Tx[lf,f=5.3]{893,1013}{インフォメーション}\Tx[lf]{893,1120}{バリアフリー\\トイレ}
\Tx[lf]{1283,789}{階段}\Tx[lf]{1283,899}{コンビニエンス\\ストア}\Tx[lf]{1283,1013}{ウォーター\\スタンド}
\end{scope}
%
% ---------- office box
\begin{scope}[shift={(1700,0)},x=0.17794pt,y=-0.166667pt]
\draw[hdt!85!white,line width=.7pt,rounded corners=5pt] (40,3) rectangle (1562,583);
\fill[hdp,rounded corners=2pt] (66,48) rectangle (522,124);
\fill[hdp,rounded corners=2pt] (575,48) rectangle (1030,124);
\fill[hdp,rounded corners=2pt] (1084,48) rectangle (1540,124);
\Tx[text=hdt,f=8]{285,88}{AS事務室}\Tx[text=hdt,f=8]{795,88}{AC事務室}\Tx[text=hdt,f=8]{1304,88}{AN事務室}
\draw[hdt!70!white,densely dotted,line width=.5pt] (548,48)--(548,545) (1057,48)--(1057,545);
\tikzset{tx/.append style={f=5.8}}
\Tx[lf]{78,162}{●学生オフィス}\Tx[lf]{78,215}{●障害学生支援室}\Tx[lf]{78,268}{●スポーツ強化オフィス}\Tx[lf]{78,319}{●キャリアセンター}\Tx[lf]{78,371}{●エクステンションセンター}
\Tx[lf]{580,162}{●学びステーション}\Tx[lf]{580,215}{●経営学部事務室}\Tx[lf]{580,268}{●政策科学部事務室}\Tx[lf]{580,319}{●情報理工学部事務室}\Tx[lf]{580,371}{●映像学部事務室}\Tx[lf]{580,424}{●総合心理学部事務室}\Tx[lf]{580,477}{●グローバル教養学部事務室}\Tx[lf]{580,529}{●独立研究科事務室}
\Tx[lf]{1108,162}{●教養教育センター}\Tx[lf]{1108,215}{●キャリア教育センター}\Tx[lf,f=5.3]{1108,268}{●サービスラーニングセンター}\Tx[lf]{1108,319}{●言語教育センター}\Tx[lf]{1108,371}{●言語習得センター(CLA)}\Tx[lf]{1108,424}{●国際教育センター}
\end{scope}
\end{tikzpicture}
\end{document}
